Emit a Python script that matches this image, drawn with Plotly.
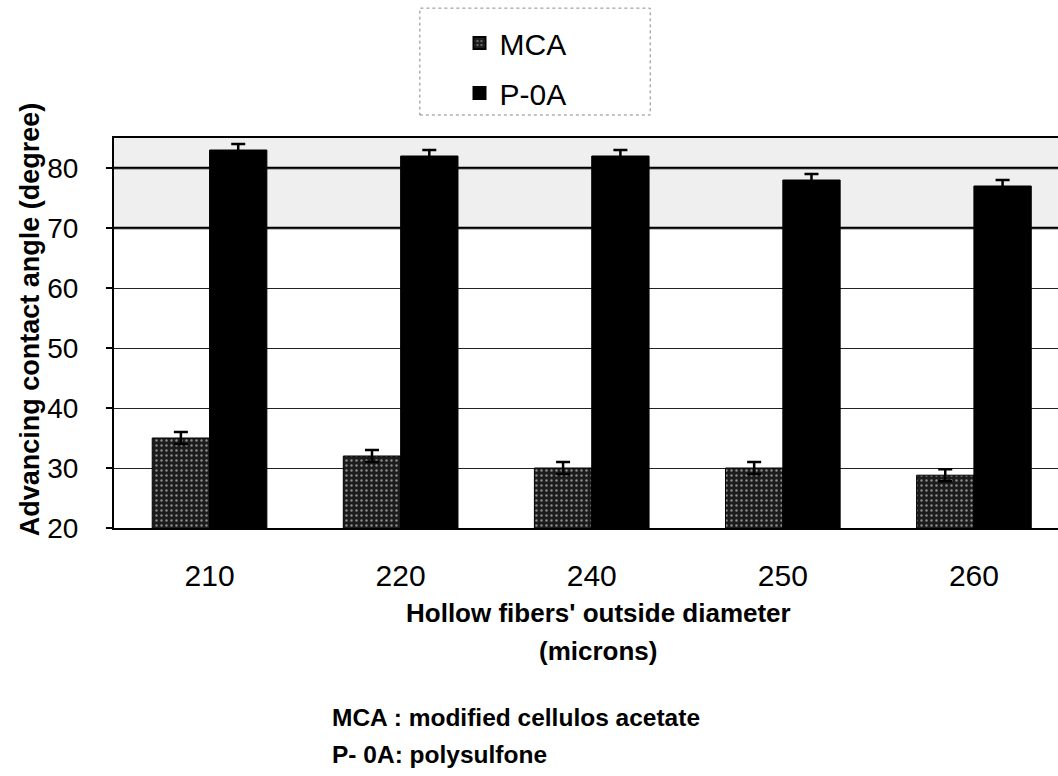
import plotly.graph_objects as go

# Hollow fiber outside diameter (microns)
diameters = ["210", "220", "240", "250", "260"]

# Advancing contact angle (degree) with error bars
mca_angle = [35, 32, 30, 30, 28.8]
mca_err = [1.0, 1.0, 1.0, 1.0, 1.0]
p0a_angle = [83, 82, 82, 78, 77]
p0a_err = [1.0, 1.0, 1.0, 1.0, 1.0]

y_ticks = [20, 30, 40, 50, 60, 70, 80]

FONT = "Liberation Sans, Arial, sans-serif"

fig = go.Figure()

fig.add_trace(go.Bar(
    name="MCA",
    x=diameters,
    y=mca_angle,
    legendgroup="mca",
    marker=dict(
        color="#1c1c1c",
        line=dict(color="black", width=1),
        pattern=dict(shape=".", fgcolor="white", size=5, solidity=0.18,
                     fillmode="overlay"),
    ),
    error_y=dict(type="data", array=mca_err, color="black",
                 thickness=2.5, width=7),
))

fig.add_trace(go.Bar(
    name="P-0A",
    x=diameters,
    y=p0a_angle,
    legendgroup="p0a",
    marker=dict(color="black", line=dict(color="black", width=1)),
    error_y=dict(type="data", array=p0a_err, color="black",
                 thickness=2.5, width=7),
))

# speckled upper band of the plot area
fig.add_shape(type="rect", xref="paper", yref="y", x0=0, x1=1, y0=70, y1=85,
              fillcolor="#efefef", line=dict(width=0), layer="below")
# heavier rules at 70 and 80
for yv in (70, 80):
    fig.add_shape(type="line", xref="paper", yref="y", x0=0, x1=1,
                  y0=yv, y1=yv, line=dict(color="black", width=2.5),
                  layer="below")

# dotted frame around the legend
fig.add_shape(type="rect", xref="paper", yref="paper",
              x0=0.324, x1=0.568, y0=1.059, y1=1.333,
              line=dict(color="#888888", width=1, dash="dot"),
              fillcolor="rgba(0,0,0,0)")

fig.add_annotation(text="<b>Advancing contact angle (degree)</b>",
                   xref="paper", yref="paper", x=-0.089, y=0.535,
                   xanchor="center", yanchor="middle",
                   textangle=-90, showarrow=False,
                   font=dict(size=27, color="black", family=FONT))
fig.add_annotation(text="<b>Hollow fibers' outside diameter</b>",
                   xref="paper", yref="paper", x=0.513, y=-0.218,
                   xanchor="center", yanchor="middle", showarrow=False,
                   font=dict(size=26, color="black", family=FONT))
fig.add_annotation(text="<b>(microns)</b>",
                   xref="paper", yref="paper", x=0.513, y=-0.315,
                   xanchor="center", yanchor="middle", showarrow=False,
                   font=dict(size=26, color="black", family=FONT))
fig.add_annotation(text="<b>MCA : modified cellulos acetate</b>",
                   xref="paper", yref="paper", x=0.229, y=-0.487,
                   xanchor="left", yanchor="middle", showarrow=False,
                   font=dict(size=24.5, color="black", family=FONT))
fig.add_annotation(text="<b>P- 0A: polysulfone</b>",
                   xref="paper", yref="paper", x=0.229, y=-0.582,
                   xanchor="left", yanchor="middle", showarrow=False,
                   font=dict(size=24.5, color="black", family=FONT))

fig.update_layout(
    width=1058, height=776,
    margin=dict(l=114, r=0, t=138, b=248),
    paper_bgcolor="white",
    plot_bgcolor="white",
    barmode="group",
    bargap=0.4,
    bargroupgap=0,
    font=dict(family=FONT, color="black"),
    showlegend=True,
    legend=dict(
        x=0.366, y=1.31, xanchor="left", yanchor="top",
        font=dict(size=30, family=FONT, color="black"),
        bgcolor="rgba(0,0,0,0)",
        tracegroupgap=8,
        itemsizing="constant",
    ),
)

fig.update_xaxes(
    range=[-0.5, 4.44],
    showline=True, linecolor="black", linewidth=2, mirror=True,
    ticks="", showgrid=False,
    tickfont=dict(size=30, family=FONT, color="black"),
    ticklabelstandoff=20,
)

fig.update_yaxes(
    range=[20, 85],
    tickvals=y_ticks,
    showline=True, linecolor="black", linewidth=2,
    ticks="outside", ticklen=6, tickcolor="black", tickwidth=1.5,
    showgrid=True, gridcolor="#222222", gridwidth=1.3,
    zeroline=False,
    tickfont=dict(size=28, family=FONT, color="black"),
    ticklabelstandoff=22,
)

fig.write_html("out.html")
